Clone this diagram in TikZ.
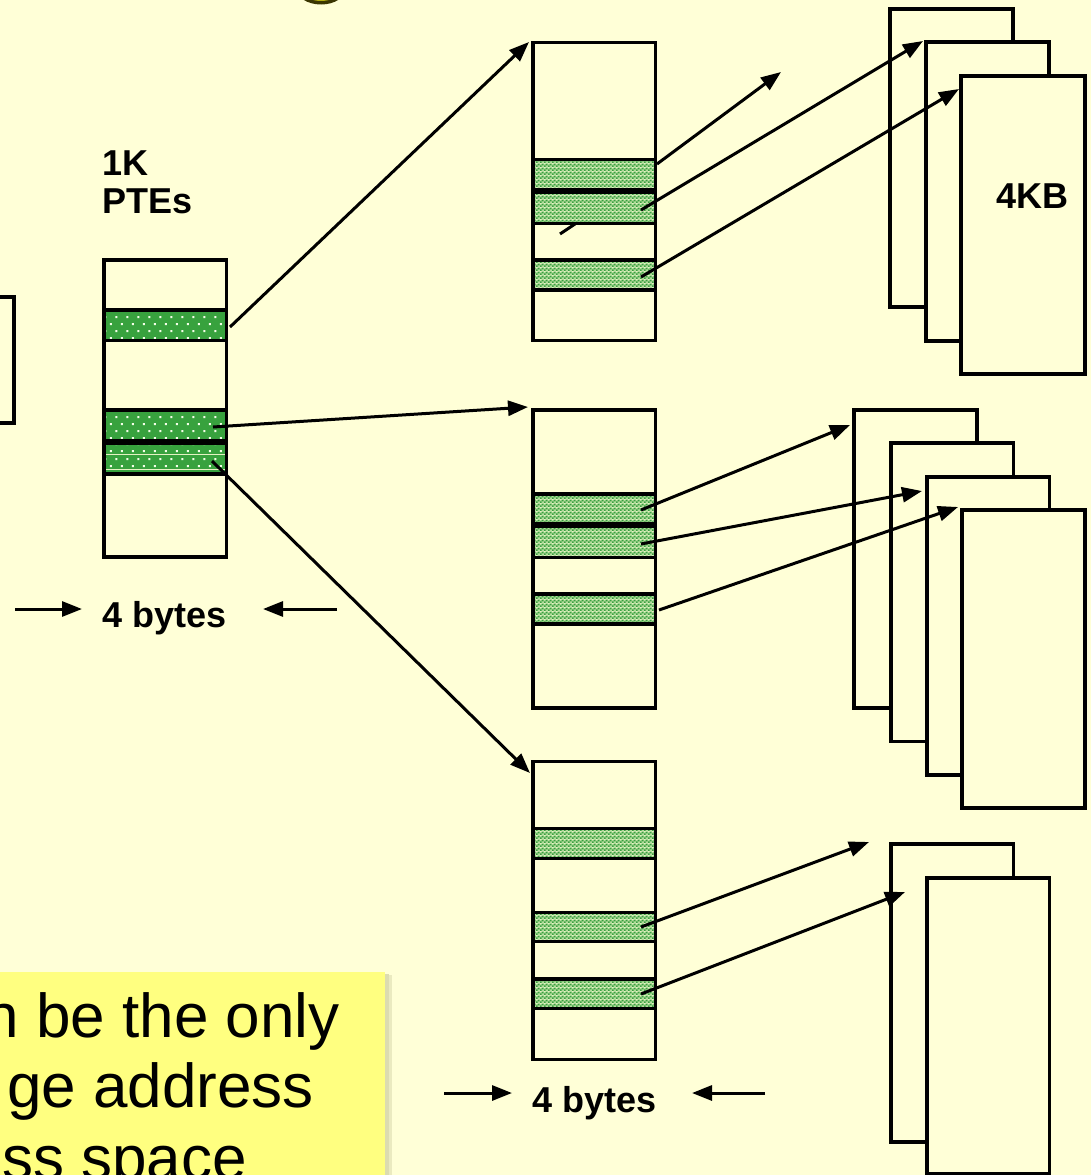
\documentclass[tikz,border=0pt]{standalone}
\usepackage{fontspec}
\setmainfont{Liberation Sans}
\usetikzlibrary{arrows.meta,patterns.meta}
\definecolor{bg}{HTML}{FFFFD7}
\definecolor{dotgreen}{HTML}{38A23E}
\definecolor{dotwhite}{HTML}{F4FFE8}
\definecolor{chkgreen}{HTML}{3A9F40}
\definecolor{chklight}{HTML}{B4DE9C}
\definecolor{noteyellow}{HTML}{FFFF80}
\definecolor{noteshadow}{HTML}{DCDCB0}
\definecolor{blobfill}{HTML}{B4AE12}
\definecolor{blobedge}{HTML}{3A3600}

\tikzdeclarepattern{
  name=ptedots,
  type=colored,
  bottom left={(0pt,0pt)},
  top right={(10.8pt,14.4pt)},
  tile size={(10.8pt,14.4pt)},
  code={
    \fill[dotgreen] (0pt,0pt) rectangle (10.8pt,14.4pt);
    \fill[dotwhite] (2pt,2pt) rectangle (4pt,4pt);
    \fill[dotwhite] (7.4pt,9.2pt) rectangle (9.4pt,11.2pt);
  }
}
\tikzdeclarepattern{
  name=ptecheck,
  type=colored,
  bottom left={(0pt,0pt)},
  top right={(4pt,4pt)},
  tile size={(4pt,4pt)},
  code={
    \fill[chklight] (0pt,0pt) rectangle (4pt,4pt);
    \fill[chkgreen] (0pt,0pt) rectangle (2pt,2pt);
    \fill[chkgreen] (2pt,2pt) rectangle (4pt,4pt);
  }
}

\begin{document}
\begin{tikzpicture}[x=1pt,y=-1pt,
  frame/.style={draw=black, line width=3.4pt, fill=bg, inner sep=0pt, outer sep=0pt, anchor=north west},
  dotstripe/.style={draw=black, line width=3.4pt, pattern=ptedots, inner sep=0pt, outer sep=0pt, anchor=north west, minimum width=122.5},
  chkstripe/.style={draw=black, line width=3.4pt, pattern=ptecheck, inner sep=0pt, outer sep=0pt, anchor=north west, minimum width=122.5},
  arr/.style={draw=black, line width=3pt, -{Triangle[length=20pt,width=15pt]}},
  plain/.style={draw=black, line width=3pt},
  lbl/.style={font=\fontsize{36}{38}\selectfont\bfseries, inner sep=0pt},
  notetext/.style={font=\fontsize{62}{70}\selectfont, inner sep=0pt, anchor=base east}
]
\useasboundingbox (0,0) rectangle (1091,1175);
\clip (0,0) rectangle (1091,1175);
\fill[bg] (0,0) rectangle (1091,1175);

% blob at top (bottom edge of a cut-off shape)
\fill[blobedge] (321,-12) ellipse [x radius=25, y radius=16.5];
\fill[blobfill] (321,-14) ellipse [x radius=22, y radius=15];

% partial top-level box at the left
\node[frame, minimum width=24, minimum height=126] (pgdir) at (-10,297) {};

% top-level page table
\node[frame, minimum width=122.5, minimum height=297] (pt0) at (104,260) {};
\node[dotstripe, minimum height=30.7] (s01) at (104,310) {};
\node[dotstripe, minimum height=30.7] (s02) at (104,410) {};
\node[dotstripe, minimum height=31] (s03) at (104,443) {};
\node[lbl, align=left, anchor=north west] (ptes) at (102,151) {1K\\PTEs};

% second-level page tables
\node[frame, minimum width=122.5, minimum height=298] (pt1) at (533,42.5) {};
\node[chkstripe, minimum height=30] (s11) at (533,159.3) {};
\node[chkstripe, minimum height=30.6] (s12) at (533,192.7) {};
\node[chkstripe, minimum height=30] (s13) at (533,260) {};

\node[frame, minimum width=122.5, minimum height=298] (pt2) at (533,410) {};
\node[chkstripe, minimum height=30] (s21) at (533,494) {};
\node[chkstripe, minimum height=30.6] (s22) at (533,526.7) {};
\node[chkstripe, minimum height=30] (s23) at (533,594) {};

\node[frame, minimum width=122.5, minimum height=297.6] (pt3) at (533,761.7) {};
\node[chkstripe, minimum height=30] (s31) at (533,828.3) {};
\node[chkstripe, minimum height=29.4] (s32) at (533,912.3) {};
\node[chkstripe, minimum height=29.3] (s33) at (533,979) {};

% pages, stack 1
\node[frame, minimum width=123, minimum height=298] (p11) at (890,9) {};
\node[frame, minimum width=123, minimum height=299] (p12) at (926,42) {};
\node[frame, minimum width=124, minimum height=298] (p13) at (961,76) {};
\node[lbl, anchor=base] (kb) at (1032,208) {4KB};

% pages, stack 2
\node[frame, minimum width=123, minimum height=298] (p21) at (854,410) {};
\node[frame, minimum width=122.5, minimum height=298.5] (p22) at (891,443) {};
\node[frame, minimum width=122.5, minimum height=298] (p23) at (927,477) {};
\node[frame, minimum width=123, minimum height=298] (p24) at (962,510) {};

% pages, stack 3
\node[frame, minimum width=122.5, minimum height=298] (p31) at (891,844) {};
\node[frame, minimum width=122.5, minimum height=296] (p32) at (927,878) {};

% connector end points
\coordinate (a1s) at (230,327);  \coordinate (a1e) at (529,42);
\coordinate (a2s) at (213,427);  \coordinate (a2e) at (528,407);
\coordinate (a3s) at (212,461);  \coordinate (a3e) at (530,773);
\coordinate (b1s) at (657,164);  \coordinate (b1e) at (781,72);
\coordinate (b2s) at (641,210);  \coordinate (b2e) at (923,41);
\coordinate (b3s) at (641,277);  \coordinate (b3e) at (959,89);
\coordinate (c1s) at (641,510);  \coordinate (c1e) at (850,425);
\coordinate (c2s) at (641,544);  \coordinate (c2e) at (922,491);
\coordinate (c3s) at (659,610);  \coordinate (c3e) at (958,507);
\coordinate (d1s) at (641,927);  \coordinate (d1e) at (869,842);
\coordinate (d2s) at (641,994);  \coordinate (d2e) at (905,892);
\coordinate (strays) at (560,234); \coordinate (straye) at (575,224);

\draw[arr] (a1s) -- (a1e);
\draw[arr] (a2s) -- (a2e);
\draw[arr] (a3s) -- (a3e);
\draw[arr] (b1s) -- (b1e);
\draw[arr] (b2s) -- (b2e);
\draw[arr] (b3s) -- (b3e);
\draw[arr] (c1s) -- (c1e);
\draw[arr] (c2s) -- (c2e);
\draw[arr] (c3s) -- (c3e);
\draw[arr] (d1s) -- (d1e);
\draw[arr] (d2s) -- (d2e);
\draw[plain] (strays) -- (straye);

% width labels
\node[lbl, anchor=base] (w0) at (165,627) {4 bytes};
\coordinate (w0l) at (15,609);  \coordinate (w0lt) at (82,609);
\coordinate (w0r) at (337,609); \coordinate (w0rt) at (263,609);
\draw[arr] (w0l) -- (w0lt);
\draw[arr] (w0r) -- (w0rt);

\node[lbl, anchor=base] (w1) at (595,1112) {4 bytes};
\coordinate (w1l) at (444,1093); \coordinate (w1lt) at (512,1093);
\coordinate (w1r) at (765,1093); \coordinate (w1rt) at (692,1093);
\draw[arr] (w1l) -- (w1lt);
\draw[arr] (w1r) -- (w1rt);

% yellow note (cut off by the picture's edge)
\fill[noteshadow!60!bg] (-10,975) rectangle (392,1190);
\fill[noteshadow] (-10,974) rectangle (389,1190);
\fill[noteyellow] (-10,972) rectangle (385,1190);
\node[notetext] (n1) at (340,1037) {n be the only};
\node[notetext] (n2) at (314,1107) {ge address};
\node[notetext] (n3) at (247,1179) {ss space};
\end{tikzpicture}
\end{document}
